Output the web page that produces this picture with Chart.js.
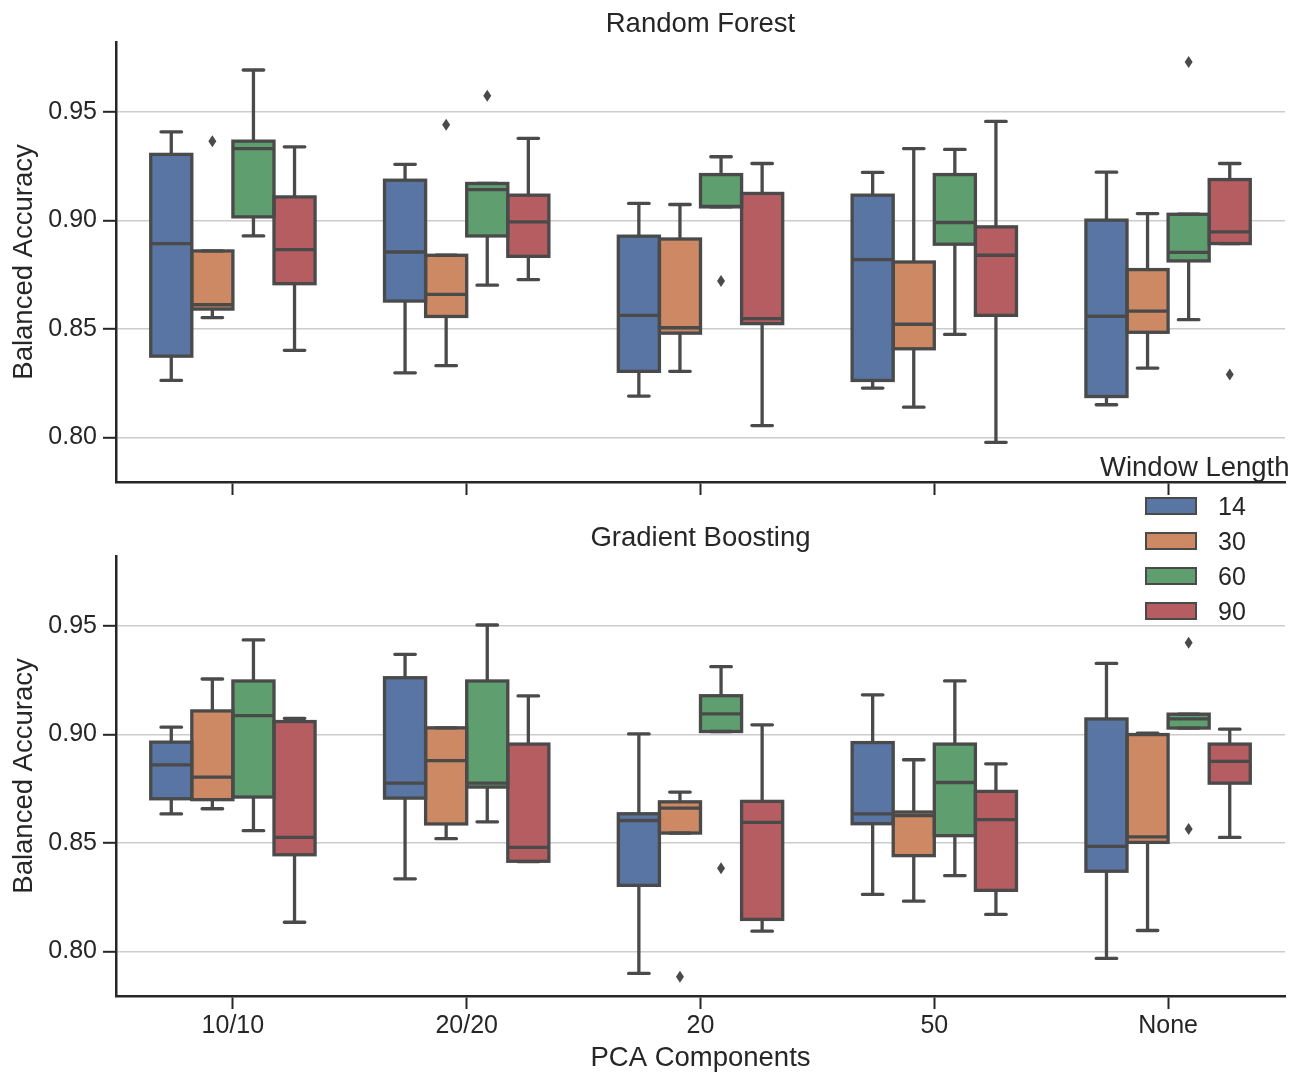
<!DOCTYPE html>
<html>
<head>
<meta charset="utf-8">
<script src="https://cdn.jsdelivr.net/npm/chart.js"></script>
<style>
html,body{margin:0;padding:0;background:#ffffff;}
#wrap{position:relative;width:1304px;height:1072px;overflow:hidden;font-family:"Liberation Sans",Arial,sans-serif;color:#262626;}
canvas{position:absolute;left:0;}
#c1{top:0;}
#c2{top:500px;}
.lg{position:absolute;white-space:nowrap;}
.sw{position:absolute;box-sizing:border-box;border:2px solid #4a4a4a;}
</style>
</head>
<body>
<div id="wrap">
  <canvas id="c1" width="1304" height="500"></canvas>
  <canvas id="c2" width="1304" height="572"></canvas>
  <div id="legend"></div>
</div>
<script>
// ---------------- DATA ----------------
const categories = ['10/10', '20/20', '20', '50', 'None'];
const windowLengths = ['14', '30', '60', '90'];
const yTicks = [0.80, 0.85, 0.90, 0.95];
const colors = ['#5875a4', '#cc8963', '#5f9e6e', '#b55d60'];

// Each entry: [whiskerLow, Q1, median, Q3, whiskerHigh] per category
// Random Forest
const rf14 = [[0.8263,0.8375,0.8894,0.9305,0.9409],[0.8298,0.8629,0.8855,0.9186,0.9259],[0.8191,0.8305,0.8563,0.8928,0.9079],[0.8228,0.8263,0.8820,0.9117,0.9222],[0.8151,0.8189,0.8559,0.9002,0.9223]];
const rf30 = [[0.8553,0.8592,0.8612,0.8860,0.8860],[0.8331,0.8558,0.8660,0.8840,0.8840],[0.8305,0.8481,0.8506,0.8915,0.9074],[0.8140,0.8409,0.8522,0.8809,0.9332],[0.8320,0.8485,0.8583,0.8774,0.9032]];
const rf60 = [[0.8929,0.9017,0.9332,0.9366,0.9694],[0.8702,0.8929,0.9143,0.9171,0.9171],[0.9063,0.9063,0.9065,0.9212,0.9294],[0.8475,0.8891,0.8991,0.9212,0.9328],[0.8543,0.8814,0.8853,0.9029,0.9029]];
const rf90 = [[0.8402,0.8709,0.8866,0.9109,0.9340],[0.8728,0.8835,0.8994,0.9117,0.9379],[0.8055,0.8525,0.8548,0.9125,0.9263],[0.7978,0.8563,0.8840,0.8971,0.9457],[0.8894,0.8894,0.8948,0.9189,0.9263]];
// outliers: [window length, category, value]
const rfOutliers = [['30','10/10',0.9366],['30','20/20',0.9442],['60','20/20',0.9575],['60','20',0.8722],['60','None',0.9731],['90','None',0.8291]];

// Gradient Boosting
const gb14 = [[0.8634,0.8704,0.8860,0.8965,0.9034],[0.8335,0.8707,0.8776,0.9262,0.9370],[0.7899,0.8305,0.8604,0.8635,0.9003],[0.8263,0.8589,0.8634,0.8963,0.9183],[0.7968,0.8370,0.8485,0.9072,0.9328]];
const gb30 = [[0.8658,0.8700,0.8804,0.9109,0.9256],[0.8520,0.8588,0.8880,0.9031,0.9031],[0.8546,0.8546,0.8661,0.8690,0.8735],[0.8232,0.8442,0.8626,0.8643,0.8884],[0.8097,0.8503,0.8528,0.9000,0.9007]];
const gb60 = [[0.8557,0.8712,0.9087,0.9247,0.9436],[0.8598,0.8758,0.8776,0.9247,0.9505],[0.9014,0.9014,0.9095,0.9179,0.9313],[0.8350,0.8534,0.8779,0.8956,0.9247],[0.9030,0.9030,0.9072,0.9094,0.9094]];
const gb90 = [[0.8135,0.8446,0.8526,0.9060,0.9075],[0.8414,0.8416,0.8480,0.8956,0.9178],[0.8094,0.8148,0.8595,0.8692,0.9045],[0.8171,0.8282,0.8608,0.8738,0.8865],[0.8526,0.8776,0.8876,0.8956,0.9025]];
const gbOutliers = [['30','20',0.7884],['60','20',0.8384],['60','None',0.9423],['60','None',0.8565]];

// ---------------- STYLE ----------------
const TEXT = '#262626';
const LINE = '#4a4a4a';
const FONT = '"Liberation Sans", Arial, sans-serif';
Chart.defaults.font.family = FONT;
Chart.defaults.color = TEXT;

function boxPlugin(stats, outliers, title) {
  return {
    id: 'boxes',
    afterDatasetsDraw(chart) {
      const ctx = chart.ctx;
      const ys = chart.scales.y;
      ctx.save();
      ctx.strokeStyle = LINE;
      ctx.lineWidth = 3.3;
      stats.forEach((arr, di) => {
        const meta = chart.getDatasetMeta(di);
        arr.forEach((s, ci) => {
          const el = meta.data[ci];
          const x = el.x, w = el.width;
          const lo = ys.getPixelForValue(s[0]);
          const q1 = ys.getPixelForValue(s[1]);
          const md = ys.getPixelForValue(s[2]);
          const q3 = ys.getPixelForValue(s[3]);
          const hi = ys.getPixelForValue(s[4]);
          ctx.lineCap = 'butt';
          ctx.beginPath();
          ctx.moveTo(x, q3); ctx.lineTo(x, hi);
          ctx.moveTo(x, q1); ctx.lineTo(x, lo);
          ctx.stroke();
          ctx.lineCap = 'round';
          ctx.beginPath();
          ctx.moveTo(x - w / 4, hi); ctx.lineTo(x + w / 4, hi);
          ctx.moveTo(x - w / 4, lo); ctx.lineTo(x + w / 4, lo);
          ctx.stroke();
          ctx.lineCap = 'butt';
          ctx.lineJoin = 'miter';
          ctx.strokeRect(x - w / 2, q3, w, q1 - q3);
          ctx.beginPath();
          ctx.moveTo(x - w / 2, md); ctx.lineTo(x + w / 2, md);
          ctx.stroke();
        });
      });
      ctx.fillStyle = LINE;
      outliers.forEach(o => {
        const di = windowLengths.indexOf(o[0]);
        const ci = categories.indexOf(o[1]);
        const el = chart.getDatasetMeta(di).data[ci];
        const x = el.x, y = ys.getPixelForValue(o[2]);
        ctx.beginPath();
        ctx.moveTo(x, y - 6); ctx.lineTo(x + 4, y); ctx.lineTo(x, y + 6); ctx.lineTo(x - 4, y);
        ctx.closePath();
        ctx.fill();
      });
      // subplot title
      const ca = chart.chartArea;
      ctx.fillStyle = TEXT;
      ctx.font = '27.5px ' + FONT;
      ctx.textAlign = 'center';
      ctx.textBaseline = 'alphabetic';
      ctx.fillText(title, (ca.left + ca.right) / 2, ca.top - 9.7);
      ctx.restore();
    }
  };
}

function makeChart(canvasId, stats, outliers, title, showXLabels, chartAreaTop, xScaleHeight) {
  const datasets = stats.map((arr, i) => ({
    label: windowLengths[i],
    data: arr.map(s => [s[1], s[3]]),
    backgroundColor: colors[i],
    borderWidth: 0,
    categoryPercentage: 0.703,
    barPercentage: 1.0
  }));
  return new Chart(document.getElementById(canvasId), {
    type: 'bar',
    data: { labels: categories, datasets },
    options: {
      responsive: false,
      animation: false,
      devicePixelRatio: 1,
      layout: { padding: { left: 0, right: 19, top: chartAreaTop, bottom: 0 } },
      plugins: { legend: { display: false }, tooltip: { enabled: false }, title: { display: false } },
      scales: {
        x: {
          type: 'category',
          offset: true,
          grid: { display: true, drawOnChartArea: false, drawTicks: true, offset: false,
                  tickLength: 13, tickColor: TEXT, tickWidth: 2 },
          border: { display: true, color: TEXT, width: 2.5 },
          ticks: { display: true, color: TEXT, font: { size: 25 }, padding: 2.5,
                   callback: function(v, i) { return showXLabels ? categories[i] : ''; } },
          title: { display: showXLabels, text: 'PCA Components', color: TEXT, font: { size: 27.5 },
                   padding: { top: 0, bottom: -2.5 } },
          afterFit: function(scale) { scale.height = xScaleHeight; scale.paddingLeft = 0; scale.paddingRight = 0; }
        },
        y: {
          type: 'linear',
          min: 0.7795,
          max: 0.9823,
          grid: { display: true, drawOnChartArea: true, color: '#cccccc', lineWidth: 1.6,
                  drawTicks: true, tickLength: 13, tickColor: TEXT, tickWidth: 2 },
          border: { display: true, color: TEXT, width: 2.5 },
          afterBuildTicks: function(scale) { scale.ticks = yTicks.map(v => ({ value: v })); },
          ticks: { color: TEXT, font: { size: 25 }, padding: 6, callback: v => Number(v).toFixed(2) },
          title: { display: true, text: 'Balanced Accuracy', color: TEXT, font: { size: 27.5 },
                   padding: { top: 8, bottom: 0 } },
          afterFit: function(scale) { scale.width = 116; scale.paddingTop = 0; scale.paddingBottom = 0; }
        }
      }
    },
    plugins: [boxPlugin(stats, outliers, title)]
  });
}

makeChart('c1', [rf14, rf30, rf60, rf90], rfOutliers, 'Random Forest', false, 42, 18);
makeChart('c2', [gb14, gb30, gb60, gb90], gbOutliers, 'Gradient Boosting', true, 56, 76);

// Legend (HTML text)
const lg = document.getElementById('legend');
const t = document.createElement('div');
t.className = 'lg';
t.style.cssText = 'left:1100px;top:451px;font-size:27.5px;line-height:32px;';
t.textContent = 'Window Length';
lg.appendChild(t);
windowLengths.forEach((w, i) => {
  const cy = 506 + 35 * i;
  const s = document.createElement('div');
  s.className = 'sw';
  s.style.cssText = 'left:1145px;top:' + (cy - 9) + 'px;width:52px;height:18px;background:' + colors[i] + ';';
  lg.appendChild(s);
  const l = document.createElement('div');
  l.className = 'lg';
  l.style.cssText = 'left:1218px;top:' + (cy - 15) + 'px;font-size:25px;line-height:30px;';
  l.textContent = w;
  lg.appendChild(l);
});
</script>
</body>
</html>
